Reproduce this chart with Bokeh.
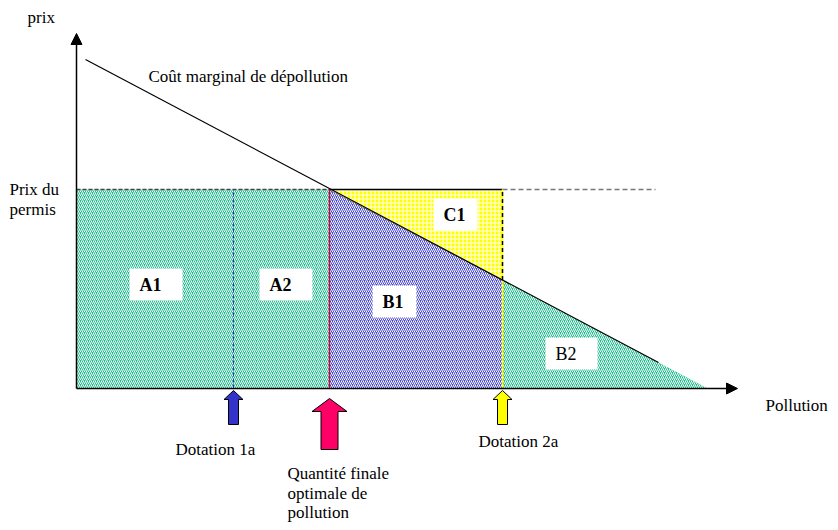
from bokeh.plotting import figure
from bokeh.models import Range1d, ColumnDataSource, Arrow, NormalHead
from bokeh.core.properties import value
from bokeh.embed import file_html
from bokeh.resources import INLINE

# ---- data (abstract units: pollution quantity, price) ----
mc_q = [0.9, 58.2]          # marginal abatement cost line endpoints (quantity)
mc_p = [32.9, 2.6]          # marginal abatement cost line endpoints (price)
permit_price = 19.9
q_dotation_1a = 15.7
q_optimal = 25.3
q_dotation_2a = 42.6
price_line_end = 57.9
x_axis_end = 66.1
y_axis_end = 35.5

area_names = ["A1", "A2", "B1", "C1", "B2"]
area_bold = [True, True, True, True, False]

FONT = value("Liberation Serif")

slope = (mc_p[1] - mc_p[0]) / (mc_q[1] - mc_q[0])
def mc(q):
    return mc_p[0] + (q - mc_q[0]) * slope
q_zero = mc_q[0] - mc_p[0] / slope

p = figure(width=830, height=522, output_backend="svg", toolbar_location=None,
           x_range=Range1d(-7.6, 75.4), y_range=Range1d(-13.4, 38.8),
           min_border=0, x_axis_location=None, y_axis_location=None)
p.grid.visible = False
p.outline_line_color = None
p.background_fill_color = "white"
p.border_fill_color = "white"

TEAL = "#1fbf8c"
PURPLE = "#4a4ad0"
# A1 + A2 (teal)
p.patch([0, 0, q_optimal, q_optimal], [0, permit_price, permit_price, 0],
        fill_color=TEAL, hatch_pattern="right_diagonal_line", hatch_color="white",
        hatch_scale=4, hatch_weight=1, line_color=None)
# B2 (teal)
p.patch([q_dotation_2a, q_dotation_2a, q_zero], [0, mc(q_dotation_2a), 0],
        fill_color=TEAL, hatch_pattern="right_diagonal_line", hatch_color="white",
        hatch_scale=4, hatch_weight=1, line_color=None)
# B1 (purple)
p.patch([q_optimal, q_optimal, q_dotation_2a, q_dotation_2a],
        [0, permit_price, mc(q_dotation_2a), 0],
        fill_color=PURPLE, hatch_pattern="right_diagonal_line", hatch_color="white",
        hatch_scale=4, hatch_weight=1, line_color="#333366", line_width=1)
# C1 (yellow)
p.patch([q_optimal, q_dotation_2a, q_dotation_2a],
        [permit_price, permit_price, mc(q_dotation_2a)],
        fill_color="#ffff00", hatch_pattern="cross", hatch_color="white",
        hatch_scale=4, hatch_weight=1, line_color=None)

# ---- lines ----
p.line([0, q_optimal], [permit_price, permit_price], line_color="#444444",
       line_dash="4 2", line_width=1.5)
p.line([q_optimal, q_dotation_2a], [permit_price, permit_price], line_color="black",
       line_width=1.5)
p.line([q_dotation_2a, price_line_end], [permit_price, permit_price], line_color="#777777",
       line_dash="5 3", line_width=1.5)
p.line([q_dotation_1a, q_dotation_1a], [0, permit_price], line_color="#3333cc",
       line_dash="4 2", line_width=1)
p.line([q_optimal, q_optimal], [0, permit_price], line_color="#cc0044", line_width=1.5)
p.line([q_dotation_2a, q_dotation_2a], [0, permit_price], line_color="#ffff00",
       line_width=1.5)
p.line([q_dotation_2a, q_dotation_2a], [mc(q_dotation_2a), permit_price],
       line_color="black", line_dash="4 3", line_width=1.5)
p.line(mc_q, mc_p, line_color="black", line_width=1.2)

# ---- axes ----
p.add_layout(Arrow(end=NormalHead(size=11, fill_color="black", line_color="black"),
                   x_start=0, y_start=0, x_end=0, y_end=y_axis_end,
                   line_color="black", line_width=1.5))
p.add_layout(Arrow(end=NormalHead(size=11, fill_color="black", line_color="black"),
                   x_start=0, y_start=0, x_end=x_axis_end, y_end=0,
                   line_color="black", line_width=1.5))

# ---- block arrows under the axis ----
def block_arrow(q, tip, head_base, head_hw, shaft_hw, bottom):
    xs = [q, q + head_hw, q + shaft_hw, q + shaft_hw, q - shaft_hw, q - shaft_hw, q - head_hw]
    ys = [tip, head_base, head_base, bottom, bottom, head_base, head_base]
    return xs, ys

xs, ys = block_arrow(q_dotation_1a, -0.2, -1.1, 0.95, 0.5, -3.6)
p.patch(xs, ys, fill_color="#3333cc", line_color="black", line_width=1)
xs, ys = block_arrow(q_optimal, -1.0, -2.3, 1.75, 0.85, -6.1)
p.patch(xs, ys, fill_color="#ff0066", line_color="black", line_width=1)
xs, ys = block_arrow(q_dotation_2a, -0.2, -1.1, 0.95, 0.5, -3.6)
p.patch(xs, ys, fill_color="#ffff00", line_color="black", line_width=1)

# ---- area labels in white boxes ----
box_x = [7.95, 20.95, 31.8, 37.9, 49.5]
box_y = [10.4, 10.4, 8.7, 17.4, 3.5]
box_w = [5.3, 5.3, 4.4, 4.4, 5.2]
box_h = 3.2
p.rect(box_x, box_y, width=box_w, height=box_h, fill_color="white", line_color=None)
txt_x = [bx - bw / 2 + 1.0 for bx, bw in zip(box_x, box_w)]
bold_src = ColumnDataSource(dict(
    x=[t for t, b in zip(txt_x, area_bold) if b],
    y=[t for t, b in zip(box_y, area_bold) if b],
    t=[n for n, b in zip(area_names, area_bold) if b]))
p.text("x", "y", text="t", source=bold_src, text_font=FONT, text_font_size="18px",
       text_font_style="bold", text_baseline="middle", text_align="left", text_color="black")
reg_src = ColumnDataSource(dict(
    x=[t for t, b in zip(txt_x, area_bold) if not b],
    y=[t for t, b in zip(box_y, area_bold) if not b],
    t=[n for n, b in zip(area_names, area_bold) if not b]))
p.text("x", "y", text="t", source=reg_src, text_font=FONT, text_font_size="18px",
       text_baseline="middle", text_align="left", text_color="black")

# ---- other texts ----
texts = ["prix", "Coût marginal de dépollution", "Prix du", "permis", "Pollution",
         "Dotation 1a", "Quantité finale", "optimale de", "pollution", "Dotation 2a"]
tx = [-4.9, 7.2, -6.7, -6.7, 68.9, 9.9, 21.1, 21.1, 21.1, 40.2]
ty = [37.1, 31.2, 19.9, 17.9, -1.7, -6.1, -8.5, -10.5, -12.4, -5.3]
p.text(tx, ty, text=texts, text_font=FONT, text_font_size="17px",
       text_baseline="middle", text_align="left", text_color="black")

open("out.html", "w").write(file_html(p, INLINE))
